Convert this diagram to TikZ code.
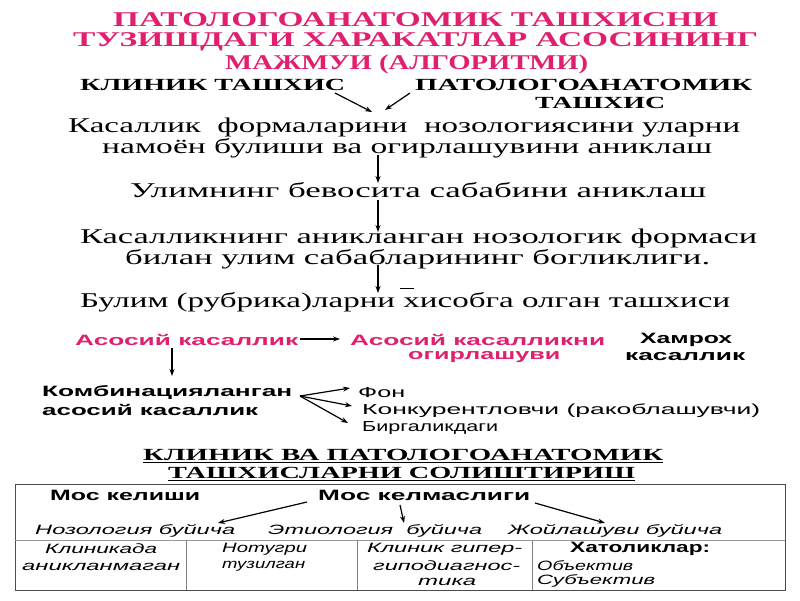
\documentclass[tikz,border=0pt]{standalone}
\usepackage{fontspec}
\setmainfont{Liberation Serif}
\setsansfont{Liberation Sans}
\usetikzlibrary{arrows.meta}
\definecolor{pinkc}{HTML}{E0206E}
\newcommand{\fw}[2]{\resizebox{#1pt}{\height}{#2}}
\tikzset{
  txt/.style={inner sep=0pt, anchor=west},
  ttl/.style={txt, text=pinkc, font=\fontsize{21}{21}\selectfont\bfseries},
  hdr/.style={txt, font=\fontsize{17}{17}\selectfont\bfseries},
  ser/.style={txt, font=\fontsize{21}{21}\selectfont},
  sbp/.style={txt, text=pinkc, font=\fontsize{15}{15}\selectfont\sffamily\bfseries},
  sbb/.style={txt, font=\fontsize{15}{15}\selectfont\sffamily\bfseries},
  sr/.style={txt, font=\fontsize{14.5}{14.5}\selectfont\sffamily},
  uhd/.style={txt, font=\fontsize{17}{17}\selectfont\bfseries},
  tb/.style={txt, font=\fontsize{15}{15}\selectfont\sffamily\bfseries},
  ti/.style={txt, font=\fontsize{13.5}{13.5}\selectfont\sffamily\itshape},
  arr/.style={-{Stealth[length=7pt,width=5pt]}, line width=1.2pt},
  grid/.style={line width=0.8pt, draw=black!70},
}
\begin{document}
\begin{tikzpicture}[x=1pt,y=-1pt]
\useasboundingbox[fill=white] (0,0) rectangle (800,600);
% title
\node[ttl] (t1) at (113,20) {\fw{605}{ПАТОЛОГОАНАТОМИК ТАШХИСНИ}};
\node[ttl] (t2) at (73,42) {\fw{685}{ТУЗИШДАГИ ХАРАКАТЛАР АСОСИНИНГ}};
\node[ttl] (t3) at (225,64) {\fw{363}{МАЖМУИ (АЛГОРИТМИ)}};
% headers
\node[hdr] (k1) at (80,85) {\fw{265}{КЛИНИК ТАШХИС}};
\node[hdr] (p1) at (415,85) {\fw{337}{ПАТОЛОГОАНАТОМИК}};
\node[hdr] (p2) at (535,103) {\fw{130}{ТАШХИС}};
% serif steps
\node[ser] (s1) at (68,127) {\fw{672}{Касаллик \ формаларини \ нозологиясини уларни}};
\node[ser] (s2) at (102,148) {\fw{610}{намоён булиши ва огирлашувини аниклаш}};
\node[ser] (s3) at (130,190) {\fw{576}{Улимнинг бевосита сабабини аниклаш}};
\node[ser] (s4) at (80,238) {\fw{677}{Касалликнинг аникланган нозологик формаси}};
\node[ser] (s5) at (125,259) {\fw{585}{билан улим сабабларининг богликлиги.}};
\node[ser] (s6) at (80,302) {\fw{650}{Булим (рубрика)ларни хисобга олган ташхиси}};
\draw[line width=1pt] (400,288) -- (414,288);
% pink row
\node[sbp] (a1) at (75,340) {\fw{223}{Асосий касаллик}};
\node[sbp] (a2) at (350,340) {\fw{255}{Асосий касалликни}};
\node[sbp] (a3) at (408,357) {\fw{152}{огирлашуви}};
\node[sbb] (h1) at (640,340) {\fw{92}{Хамрох}};
\node[sbb] (h2) at (625,357) {\fw{120}{касаллик}};
% combined
\node[sbb] (c1) at (42,392) {\fw{250}{Комбинацияланган}};
\node[sbb] (c2) at (42,410) {\fw{216}{асосий касаллик}};
\node[sr] (f1) at (358,393) {\fw{47}{Фон}};
\node[sr] (f2) at (362,411) {\fw{398}{Конкурентловчи (ракоблашувчи)}};
\node[sr] (f3) at (362,428) {\fw{136}{Биргаликдаги}};
% table title
\node[uhd] (u1) at (143,455) {\fw{520}{КЛИНИК ВА ПАТОЛОГОАНАТОМИК}};
\node[uhd] (u2) at (168,473) {\fw{467}{ТАШХИСЛАРНИ СОЛИШТИРИШ}};
\draw[line width=1pt] ([yshift=-2pt]u1.south west) -- ([yshift=-2pt]u1.south east);
\draw[line width=1pt] ([yshift=-2pt]u2.south west) -- ([yshift=-2pt]u2.south east);
% table
\draw[grid] (15,484) rectangle (785,590);
\draw[grid, draw=black!40] (15,540) -- (785,540);
\draw[grid, draw=black!50] (186,540) -- (186,590);
\draw[grid, draw=black!50] (357,540) -- (357,590);
\draw[grid, draw=black!50] (532,540) -- (532,590);
\node[tb] (m1) at (50,495) {\fw{150}{Мос келиши}};
\node[tb] (m2) at (318,495) {\fw{212}{Мос келмаслиги}};
\node[ti] (n1) at (35,531) {\fw{200}{Нозология буйича}};
\node[ti] (n2) at (268,531) {\fw{214}{Этиология \ буйича}};
\node[ti] (n3) at (508,531) {\fw{214}{Жойлашуви буйича}};
\node[ti] (d1) at (45,549) {\fw{112}{Клиникада}};
\node[ti] (d2) at (22,567) {\fw{158}{аникланмаган}};
\node[ti] (e1) at (222,549) {\fw{85}{Нотугри}};
\node[ti] (e2) at (222,566) {\fw{83}{тузилган}};
\node[ti] (g1) at (367,549) {\fw{155}{Клиник гипер-}};
\node[ti] (g2) at (373,566) {\fw{147}{гиподиагнос-}};
\node[ti] (g3) at (418,582) {\fw{58}{тика}};
\node[tb] (x1) at (570,549) {\fw{140}{Хатоликлар:}};
\node[ti] (x2) at (537,566) {\fw{96}{Объектив}};
\node[ti] (x3) at (537,581) {\fw{118}{Субъектив}};
% arrow coordinates
\coordinate (ka) at (335,93);  \coordinate (kb) at (372,112);
\coordinate (pa) at (410,93);  \coordinate (pb) at (385,110);
\coordinate (v1a) at (378,155); \coordinate (v1b) at (378,183);
\coordinate (v2a) at (378,200); \coordinate (v2b) at (378,232);
\coordinate (v3a) at (378,265); \coordinate (v3b) at (378,293);
\coordinate (aa) at (300,339); \coordinate (ab) at (340,339);
\coordinate (ca) at (172,348); \coordinate (cb) at (172,376);
\coordinate (fo) at (300,396);
\coordinate (fa) at (350,388); \coordinate (fb) at (352,406); \coordinate (fc) at (348,423);
\coordinate (ma) at (307,502); \coordinate (na) at (218,523);
\coordinate (mb) at (400,505); \coordinate (nb) at (404,523);
\coordinate (mc) at (535,503); \coordinate (nc) at (605,523);
\draw[arr] (ka) -- (kb);
\draw[arr] (pa) -- (pb);
\draw[arr] (v1a) -- (v1b);
\draw[arr] (v2a) -- (v2b);
\draw[arr] (v3a) -- (v3b);
\draw[arr] (aa) -- (ab);
\draw[arr] (ca) -- (cb);
\draw[arr] (fo) -- (fa);
\draw[arr] (fo) -- (fb);
\draw[arr] (fo) -- (fc);
\draw[arr] (ma) -- (na);
\draw[arr] (mb) -- (nb);
\draw[arr] (mc) -- (nc);
\end{tikzpicture}
\end{document}
